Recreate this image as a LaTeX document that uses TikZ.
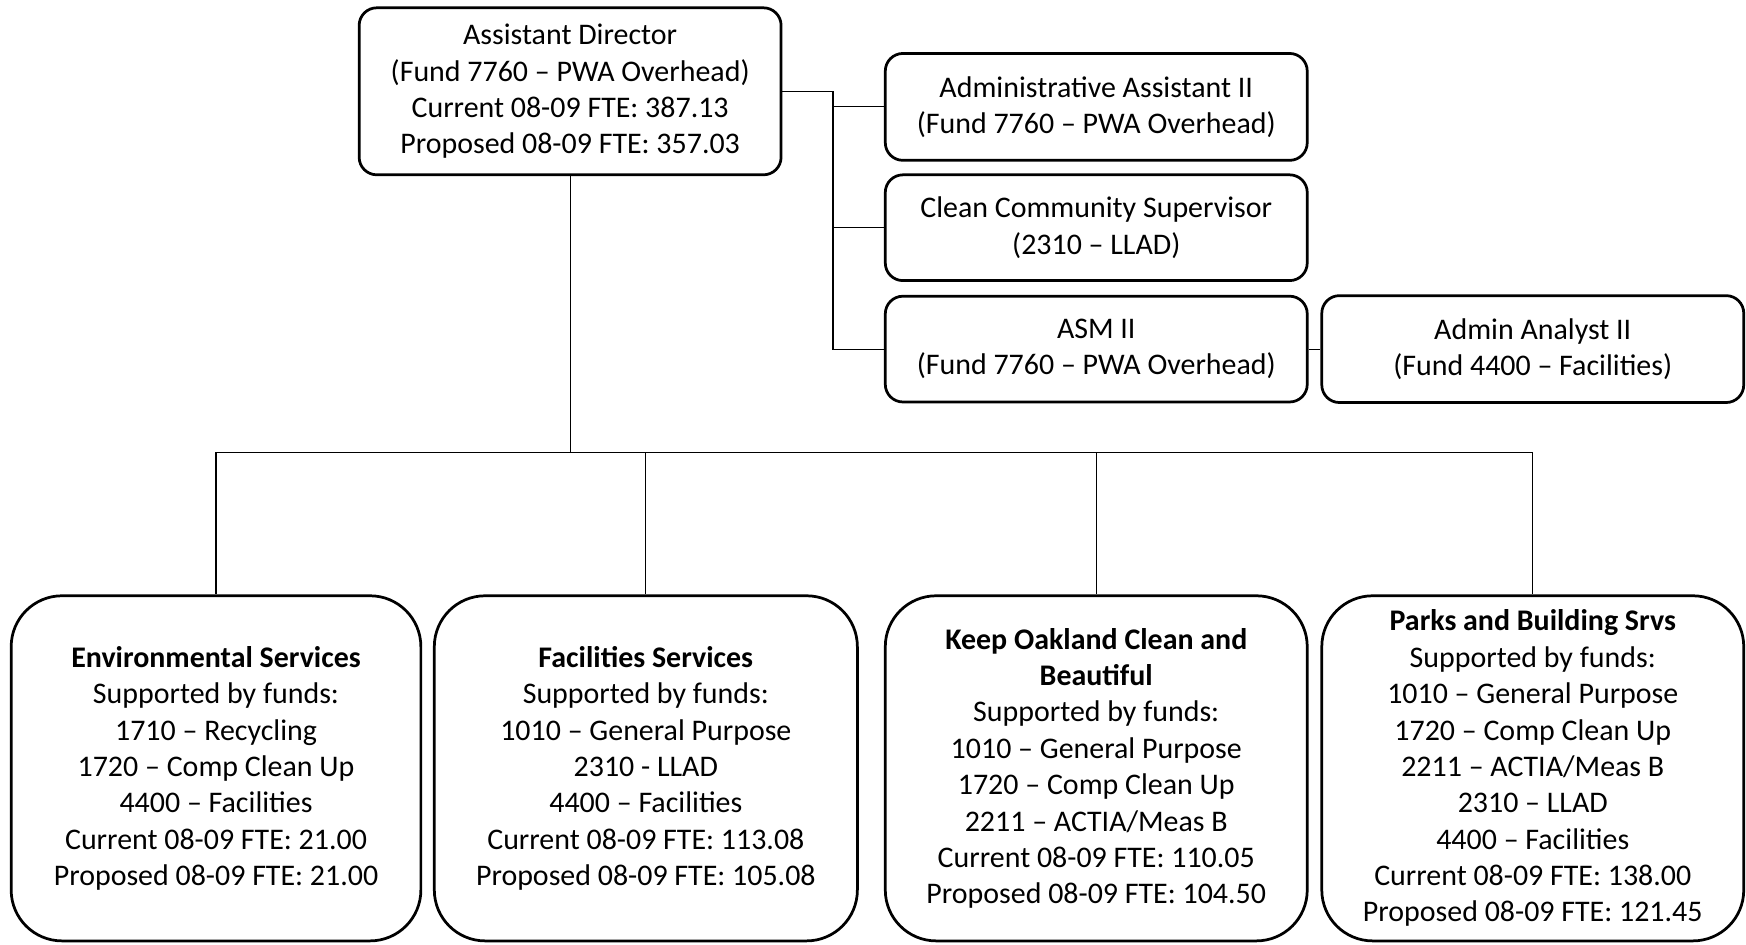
\documentclass[tikz,border=0pt]{standalone}
\usepackage{fontspec}
\setmainfont{Carlito}
\usetikzlibrary{positioning, calc}
\tikzset{
  font=\fontsize{15.3}{18.6}\selectfont,
  %
  post/.style={
    draw=black, line width=1.4pt, fill=white, rounded corners=9pt,
    align=center, inner sep=2pt, minimum width=7.58cm,
  },
  unit/.style={post, rounded corners=26pt, minimum height=6.2cm},
  %
  wire/.style={draw=black, line width=0.6pt},
}
\begin{document}
\begin{tikzpicture}[x=0.02cm, y=-0.02cm]
  \useasboundingbox (0,0) rectangle (1568,848);

  % the director and the staff beside him
  \node[post, minimum height=3.0cm] (ad) at (512,82)
    {Assistant Director\\(Fund 7760 -- PWA Overhead)\\Current 08-09 FTE: 387.13\\Proposed 08-09 FTE: 357.03};
  \node[post, minimum height=1.92cm] (aa) at (984.5,96)
    {Administrative Assistant II\\(Fund 7760 -- PWA Overhead)};
  \node[post, minimum height=1.9cm] (cc) at (984.5,204.5)
    {Clean Community Supervisor\\(2310 -- LLAD)};
  \node[post, minimum height=1.9cm] (asm) at (984.5,313.5)
    {ASM II\\(Fund 7760 -- PWA Overhead)};
  \node[post, minimum height=1.92cm] (an) at (1376.5,313.5)
    {Admin Analyst II\\(Fund 4400 -- Facilities)};

  \coordinate (sp) at (748,82);
  \draw[wire] (ad.east |- sp) -- (sp) |- (asm.west);
  \foreach \n in {aa, cc} {
    \draw[wire] (sp |- \n.west) -- (\n.west);
  }
  \draw[wire] (asm.east) -- (an.west);

  % the four service units
  \node[unit, minimum width=7.36cm] (env) at (194,690)
    {{\bfseries Environmental Services}\\Supported by funds:\\1710 -- Recycling\\1720 -- Comp Clean Up\\4400 -- Facilities\\Current 08-09 FTE: 21.00\\Proposed 08-09 FTE: 21.00};
  \node[unit, minimum width=7.6cm] (fac) at (580,690)
    {{\bfseries Facilities Services}\\Supported by funds:\\1010 -- General Purpose\\2310 - LLAD\\4400 -- Facilities\\Current 08-09 FTE: 113.08\\Proposed 08-09 FTE: 105.08};
  \node[unit] (koc) at (984.5,690)
    {{\bfseries Keep Oakland Clean and}\\{\bfseries Beautiful}\\Supported by funds:\\1010 -- General Purpose\\1720 -- Comp Clean Up\\2211 -- ACTIA/Meas B\\Current 08-09 FTE: 110.05\\Proposed 08-09 FTE: 104.50};
  \node[unit] (pbs) at (1376.5,690)
    {{\bfseries Parks and Building Srvs}\\Supported by funds:\\1010 -- General Purpose\\1720 -- Comp Clean Up\\2211 -- ACTIA/Meas B\\2310 -- LLAD\\4400 -- Facilities\\Current 08-09 FTE: 138.00\\Proposed 08-09 FTE: 121.45};

  \coordinate (bus) at (512,406);
  \draw[wire] (ad.south) -- (bus);
  \draw[wire] (env.north |- bus) -- (pbs.north |- bus);
  \foreach \n in {env, fac, koc, pbs} {
    \draw[wire] (\n.north |- bus) -- (\n.north);
  }

\end{tikzpicture}
\end{document}
